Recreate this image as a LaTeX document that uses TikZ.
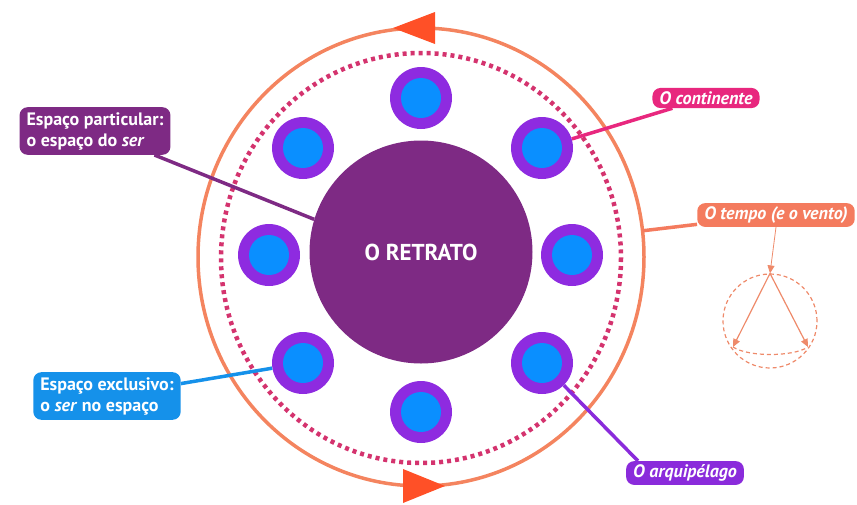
\documentclass[tikz,border=0pt]{standalone}
\usepackage{fontspec}
\setmainfont{PT Sans}
\usetikzlibrary{arrows.meta,calc,shapes.geometric,positioning}
\definecolor{retrato}{HTML}{7E2A84}
\definecolor{ringviolet}{HTML}{8E2BE0}
\definecolor{satblue}{HTML}{0A8FFF}
\definecolor{dotpink}{HTML}{D4336E}
\definecolor{orbitline}{HTML}{F4845F}
\definecolor{arrowred}{HTML}{FF5027}
\definecolor{exclublue}{HTML}{1591EA}
\definecolor{contpink}{HTML}{E8277E}
\definecolor{tempoorange}{HTML}{F47B5E}
\definecolor{arqviolet}{HTML}{8A2BDB}
\definecolor{windline}{HTML}{EE8A6A}

\begin{document}
\begin{tikzpicture}[x=1pt,y=-1pt,
  labelbox/.style={rounded corners=8pt, text=white, inner xsep=7pt, inner ysep=5pt,
    align=left, font=\fontsize{18}{21}\selectfont\bfseries},
  tagbox/.style={rounded corners=8pt, text=white, inner xsep=7pt, inner ysep=3.5pt,
    font=\fontsize{18}{20}\selectfont\bfseries\itshape},
  link/.style={line width=3.5pt},
  windarrow/.style={windline, line width=1.2pt, -{Triangle[length=8pt,width=7pt]}}]
  \def\cx{421}
  \def\cy{255}
  \useasboundingbox (0,0) rectangle (857,504);

  % orbit of time, with its two arrows
  \node[ellipse, draw=orbitline, line width=3.5pt, minimum width=446pt,
    minimum height=458pt, inner sep=0pt, outer sep=0pt] (orbit) at (\cx,257) {};
  \fill[arrowred] ($(orbit.north)+(-28,0)$) -- ++(42,-16) -- ++(0,32) -- cycle;
  \fill[arrowred] ($(orbit.south)+(24,0)$) -- ++(-42,-17) -- ++(0,34) -- cycle;

  % dotted border
  \draw[dotpink, line width=4.5pt, dash pattern=on 4pt off 4pt]
    (\cx,258) ellipse [x radius=200, y radius=205];

  % the portrait
  \node[circle, fill=retrato, minimum size=223pt, inner sep=0pt, text=white,
    font=\fontsize{23}{26}\selectfont\bfseries] (retrato) at (\cx,252) {O RETRATO};

  % islands round the portrait
  \foreach \n/\x/\y in {n/0/-157, ne/121/-107, e/151/0, se/121/108,
                        s/0/157, sw/-118/108, w/-152/0, nw/-118/-107} {
    \node[circle, fill=ringviolet, minimum size=62pt, inner sep=0pt] (s\n) at (\cx+\x,\cy+\y) {};
    \fill[satblue] (s\n) circle (20);
  }

  % labels
  \node[labelbox, fill=retrato] (partic) at (95,131) {Espaço particular:\\o espaço do \textit{ser}};
  \node[labelbox, fill=exclublue] (exclu) at (107,396) {Espaço exclusivo:\\o \textit{ser} no espaço};
  \node[tagbox, fill=contpink] (cont) at (706,98) {O continente};
  \node[tagbox, fill=tempoorange] (tempo) at (776,215) {O tempo (e o vento)};
  \node[tagbox, fill=arqviolet] (arq) at (685,473) {O arquipélago};

  % connectors
  \draw[link, retrato] (partic) -- (retrato.163);
  \draw[link, exclublue] (exclu) -- (ssw);
  \draw[link, contpink] (cont) -- (sne);
  \draw[link, tempoorange] (tempo) -- (orbit);
  \draw[link, arqviolet] ([xshift=12pt]arq.north west) -- (sse);

  % wind cone
  \node[circle, draw=windline, line width=1.2pt, dash pattern=on 4pt off 3pt,
    minimum size=94pt, inner sep=0pt] (wind) at (770,321) {};
  \coordinate (windl) at (733,347);
  \coordinate (windr) at (808,347);
  \draw[windline, line width=1.2pt, dash pattern=on 4pt off 3pt]
    (windl) .. controls (748,357) and (793,357) .. (windr);
  \draw[windarrow, line width=0.8pt] (tempo.south) -- (wind.north);
  \draw[windarrow] (wind.north) -- (windl);
  \draw[windarrow] (wind.north) -- (windr);
\end{tikzpicture}
\end{document}
